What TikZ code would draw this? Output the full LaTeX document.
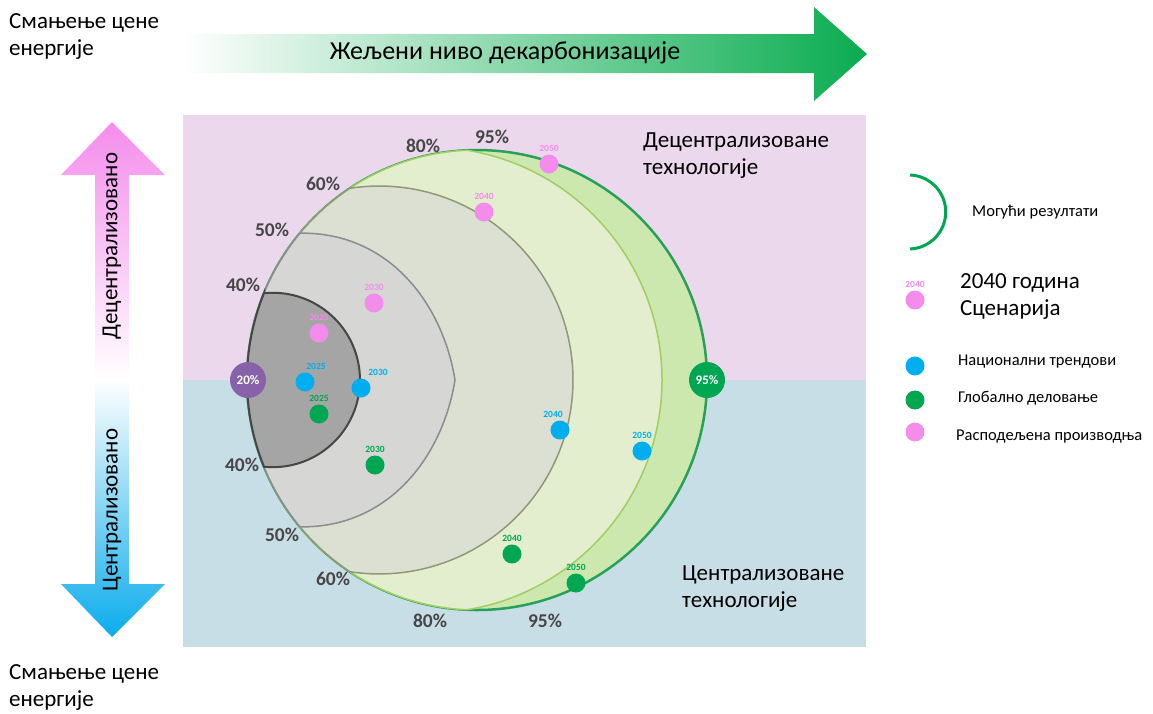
\documentclass[tikz,border=0pt]{standalone}
\usepackage{fontspec}
\setmainfont{Carlito}
\usetikzlibrary{positioning}

\definecolor{panelpink}{RGB}{236,216,236}
\definecolor{panelblue}{RGB}{200,222,230}
\definecolor{arrowgreen}{RGB}{10,172,80}
\definecolor{arrowpink}{RGB}{244,140,236}
\definecolor{arrowblue}{RGB}{10,172,236}
\definecolor{pinkdot}{RGB}{244,140,236}
\definecolor{bluedot}{RGB}{0,174,239}
\definecolor{greendot}{RGB}{0,166,81}
\definecolor{purpledot}{RGB}{135,98,170}
\definecolor{pcttext}{RGB}{70,70,70}
\definecolor{fill95}{RGB}{205,232,175}
\definecolor{line95}{RGB}{40,160,90}
\definecolor{fill80}{RGB}{226,238,205}
\definecolor{line80}{RGB}{160,205,100}
\definecolor{fill60}{RGB}{219,224,211}
\definecolor{line60}{RGB}{145,152,118}
\definecolor{fill50}{RGB}{214,214,212}
\definecolor{line50}{RGB}{140,140,140}
\definecolor{fill40}{RGB}{165,165,165}
\definecolor{line40}{RGB}{70,70,70}

\tikzset{
  dot/.style={shape=circle, inner sep=0pt, minimum size=19pt},
  bigdot/.style={shape=circle, inner sep=0pt, minimum size=36pt, text=white,
    font=\fontsize{13}{13}\selectfont\bfseries},
  yr/.style={inner sep=0pt, font=\fontsize{9.5}{9.5}\selectfont\bfseries},
  pct/.style={inner sep=0pt, text=pcttext, font=\fontsize{19.5}{19.5}\selectfont\bfseries},
  body/.style={inner sep=0pt, align=left, font=\fontsize{23}{27}\selectfont},
  legend/.style={inner sep=0pt, anchor=west, font=\fontsize{16.5}{20}\selectfont},
}

\begin{document}
\begin{tikzpicture}[x=1pt, y=-1pt]
  \useasboundingbox (0,0) rectangle (1153,713);

  % panel
  \fill[panelpink] (183,115) rectangle (866,380);
  \fill[panelblue] (183,380) rectangle (866,647);

  % arrows
  \shade[left color=white, right color=arrowgreen]
    (183,34) -- (814,34) -- (814,7) -- (867,54) -- (814,101) -- (814,73)
    -- (183,73) -- cycle;
  \shade[top color=arrowpink, bottom color=arrowblue, middle color=white]
    (112,122) -- (165,175) -- (129,175) -- (129,584) -- (165,584) -- (112,637)
    -- (61,584) -- (95,584) -- (95,175) -- (61,175) -- cycle;

  % shells
  \filldraw[fill=fill95, draw=line95, line width=2.5pt]
    (477,380) circle[radius=230];
  \filldraw[fill=fill80, draw=line80, line width=1.5pt]
    (467,150.2) arc[start angle=-80.63, end angle=80.63, radius=232.9]
    arc[start angle=92.49, end angle=267.51, radius=230] -- cycle;
  \filldraw[fill=fill60, draw=line60, line width=1.5pt]
    (350,188.24) arc[start angle=-98.61, end angle=98.61, radius=193.95]
    arc[start angle=123.51, end angle=236.49, radius=230] -- cycle;
  \filldraw[fill=fill50, draw=line50, line width=1.5pt]
    (300,233.13) .. controls (390,232) and (443,305) .. (455,380)
    .. controls (443,455) and (390,528) .. (300,526.87)
    arc[start angle=140.32, end angle=219.68, radius=230] -- cycle;
  \filldraw[fill=fill40, draw=line40, line width=2pt]
    (264,293.22) arc[start angle=-95.79, end angle=95.79, radius=87.2]
    arc[start angle=157.83, end angle=202.17, radius=230] -- cycle;

  % percent labels
  \node[pct] (t40) at (243,285) {40\%};
  \node[pct] (b40) at (242,465) {40\%};
  \node[pct] (t50) at (272,230) {50\%};
  \node[pct] (b50) at (282,535) {50\%};
  \node[pct] (t60) at (323,184) {60\%};
  \node[pct] (b60) at (333,579) {60\%};
  \node[pct] (t80) at (423,146) {80\%};
  \node[pct] (b80) at (430,621) {80\%};
  \node[pct] (t95) at (492,137) {95\%};
  \node[pct] (b95) at (545,621) {95\%};

  % scenario dots
  \node[bigdot, fill=purpledot] (low) at (248,380) {20\%};
  \node[bigdot, fill=greendot] (high) at (707,380) {95\%};

  \node[dot, fill=pinkdot] (p25) at (319,333) {};
  \node[dot, fill=pinkdot] (p30) at (374,303) {};
  \node[dot, fill=pinkdot] (p40) at (484,212) {};
  \node[dot, fill=pinkdot] (p50) at (549,164) {};
  \node[dot, fill=bluedot] (b25) at (305,382) {};
  \node[dot, fill=bluedot] (b30) at (361,388) {};
  \node[dot, fill=bluedot] (b40) at (560,430) {};
  \node[dot, fill=bluedot] (b50) at (642,451) {};
  \node[dot, fill=greendot] (g25) at (319,414) {};
  \node[dot, fill=greendot] (g30) at (375,465) {};
  \node[dot, fill=greendot] (g40) at (512,554) {};
  \node[dot, fill=greendot] (g50) at (576,583) {};

  \node[yr, text=pinkdot, above=3pt of p25] {2025};
  \node[yr, text=pinkdot, above=3pt of p30] {2030};
  \node[yr, text=pinkdot, above=3pt of p40] {2040};
  \node[yr, text=pinkdot, above=3pt of p50] {2050};
  \node[yr, text=bluedot] at (316,366) {2025};
  \node[yr, text=bluedot] at (378,372) {2030};
  \node[yr, text=bluedot, above=3pt of b40, xshift=-7pt] {2040};
  \node[yr, text=bluedot, above=3pt of b50] {2050};
  \node[yr, text=greendot, above=3pt of g25] {2025};
  \node[yr, text=greendot, above=3pt of g30] {2030};
  \node[yr, text=greendot, above=3pt of g40] {2040};
  \node[yr, text=greendot, above=3pt of g50] {2050};

  % texts
  \node[body, anchor=north west] (costtop) at (9,13) {Смањење цене\\енергије};
  \node[body, anchor=north west] (costbot) at (9,664) {Смањење цене\\енергије};
  \node[font=\fontsize{26}{26}\selectfont] (goal) at (505,53) {Жељени ниво декарбонизације};
  \node[rotate=90, font=\fontsize{23}{23}\selectfont] (decent) at (112,246) {Децентрализовано};
  \node[rotate=90, font=\fontsize{23}{23}\selectfont] (cent) at (112,510) {Централизовано};
  \node[body, anchor=north west] (dtech) at (643,133) {Децентрализоване\\технологије};
  \node[body, anchor=north west] (ctech) at (682,566) {Централизоване\\технологије};

  % legend
  \draw[greendot, line width=3pt] (910,175) arc[start angle=-88, end angle=88, radius=37];
  \node[legend] (lout) at (972,212) {Могући резултати};
  \node[dot, fill=pinkdot] (lyear) at (915,300) {};
  \node[yr, text=pinkdot, above=3pt of lyear] {2040};
  \node[body, anchor=north west] (lyeartxt) at (960,273) {2040 година\\Сценарија};
  \node[dot, fill=bluedot] (lnat) at (915,366) {};
  \node[legend] (lnattxt) at (958,362) {Национални трендови};
  \node[dot, fill=greendot] (lglob) at (915,400) {};
  \node[legend] (lglobtxt) at (958,398) {Глобално деловање};
  \node[dot, fill=pinkdot] (ldist) at (915,432) {};
  \node[legend] (ldisttxt) at (956,437) {Расподељена производња};
\end{tikzpicture}
\end{document}
